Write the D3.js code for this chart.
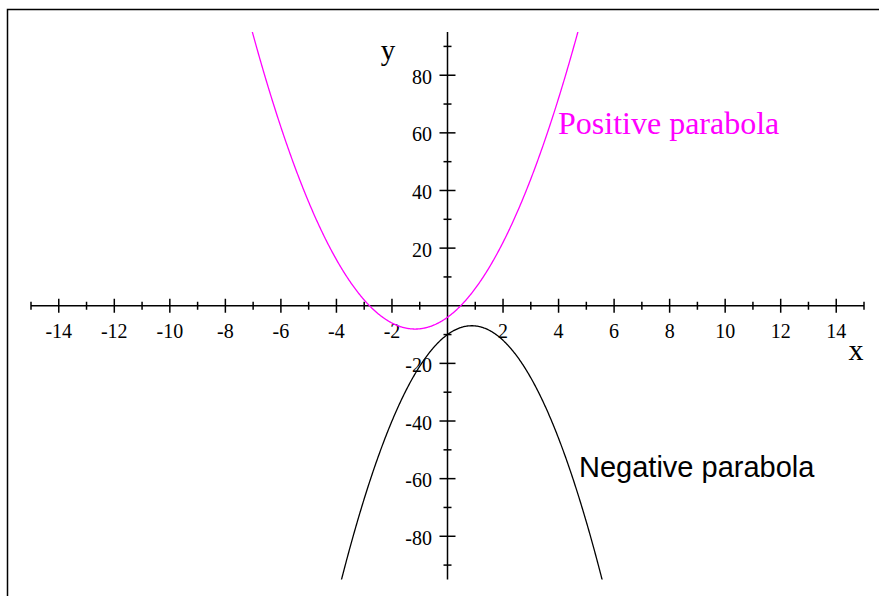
<!DOCTYPE html>
<html>
<head>
<meta charset="utf-8">
<script src="https://cdn.jsdelivr.net/npm/d3@7"></script>
<style>
  html, body { margin: 0; padding: 0; background: #fff; }
  svg { display: block; }
  .tick-label { font-family: "Liberation Serif", "Times New Roman", serif; font-size: 20px; fill: #000; }
</style>
</head>
<body>
<svg id="chart" width="879" height="596"></svg>
<script>
// Axis extents and tick values
const xDomain = [-15, 15];
const yDomain = [-95, 95];
const xMajorTicks = [-14, -12, -10, -8, -6, -4, -2, 2, 4, 6, 8, 10, 12, 14];
const xMinorTicks = [-15, -13, -11, -9, -7, -5, -3, -1, 1, 3, 5, 7, 9, 11, 13, 15];
const yMajorTicks = [-80, -60, -40, -20, 20, 40, 60, 80];
const yMinorTicks = [-90, -70, -50, -30, -10, 10, 30, 50, 70, 90];

// Quadratic coefficients [a, b, c] for y = a*x^2 + b*x + c
const positiveCoeffs = [3, 7, -4];
const negativeCoeffs = [-4, 7, -10];

const curveNames = ["Positive parabola", "Negative parabola"];
const curveColors = ["#ff00ff", "#000000"];

const svg = d3.select("#chart");

const x = d3.scaleLinear().domain(xDomain).range([31, 864]);
const y = d3.scaleLinear().domain(yDomain).range([579.5, 32]);

// Frame lines (top and left)
svg.append("path")
  .attr("d", "M7.5,596 L7.5,9.5 L879,9.5")
  .attr("fill", "none").attr("stroke", "#000").attr("stroke-width", 1.5);

// Clip curves to the plotting range
svg.append("clipPath").attr("id", "plotClip")
  .append("rect")
  .attr("x", x(xDomain[0])).attr("y", y(yDomain[1]))
  .attr("width", x(xDomain[1]) - x(xDomain[0]))
  .attr("height", y(yDomain[0]) - y(yDomain[1]));

const x0 = x(0), y0 = y(0);
const axisG = svg.append("g").attr("stroke", "#000").attr("stroke-width", 1.5);

// x axis line and ticks
axisG.append("line").attr("x1", x(xDomain[0])).attr("x2", x(xDomain[1])).attr("y1", y0).attr("y2", y0);
axisG.selectAll(".xmaj").data(xMajorTicks).join("line")
  .attr("x1", d => x(d)).attr("x2", d => x(d)).attr("y1", y0 - 7).attr("y2", y0 + 7);
axisG.selectAll(".xmin").data(xMinorTicks).join("line")
  .attr("x1", d => x(d)).attr("x2", d => x(d)).attr("y1", y0 - 4).attr("y2", y0 + 4);

// y axis line and ticks
axisG.append("line").attr("y1", y(yDomain[0])).attr("y2", y(yDomain[1])).attr("x1", x0).attr("x2", x0);
axisG.selectAll(".ymaj").data(yMajorTicks).join("line")
  .attr("y1", d => y(d)).attr("y2", d => y(d)).attr("x1", x0 - 8).attr("x2", x0 + 8);
axisG.selectAll(".ymin").data(yMinorTicks).join("line")
  .attr("y1", d => y(d)).attr("y2", d => y(d)).attr("x1", x0 - 4).attr("x2", x0 + 4);

// Tick labels
svg.selectAll(".xl").data(xMajorTicks).join("text")
  .attr("class", "tick-label")
  .attr("x", d => x(d)).attr("y", y0 + 32)
  .attr("text-anchor", "middle")
  .text(d => d);
svg.selectAll(".yl").data(yMajorTicks).join("text")
  .attr("class", "tick-label")
  .attr("x", x0 - 15.5).attr("y", d => y(d) + 8.5)
  .attr("text-anchor", "end")
  .text(d => d);

// Axis names
svg.append("text").attr("x", 856).attr("y", 359.5)
  .attr("text-anchor", "middle")
  .style("font-family", "Liberation Serif, serif").style("font-size", "30px")
  .text("x");
svg.append("text").attr("x", 388).attr("y", 60)
  .attr("text-anchor", "middle")
  .style("font-family", "Liberation Serif, serif").style("font-size", "29px")
  .text("y");

// Parabolas
const quad = c => v => c[0] * v * v + c[1] * v + c[2];
const xs = d3.range(xDomain[0], xDomain[1] + 0.001, 0.02);
const line = d3.line().x(d => x(d[0])).y(d => y(d[1]));
[positiveCoeffs, negativeCoeffs].forEach((c, i) => {
  const f = quad(c);
  const pts = xs.map(v => [v, f(v)]).filter(p => p[1] > -140 && p[1] < 140);
  svg.append("path")
    .attr("d", line(pts))
    .attr("clip-path", "url(#plotClip)")
    .attr("fill", "none")
    .attr("stroke", curveColors[i])
    .attr("stroke-width", 1.3);
});

// Curve labels
svg.append("text").attr("x", 558).attr("y", 134)
  .style("font-family", "Liberation Serif, serif").style("font-size", "32px")
  .attr("fill", curveColors[0])
  .text(curveNames[0]);
svg.append("text").attr("x", 579).attr("y", 477)
  .style("font-family", "Liberation Sans, Arial, sans-serif").style("font-size", "29px")
  .attr("fill", curveColors[1])
  .text(curveNames[1]);
</script>
</body>
</html>
